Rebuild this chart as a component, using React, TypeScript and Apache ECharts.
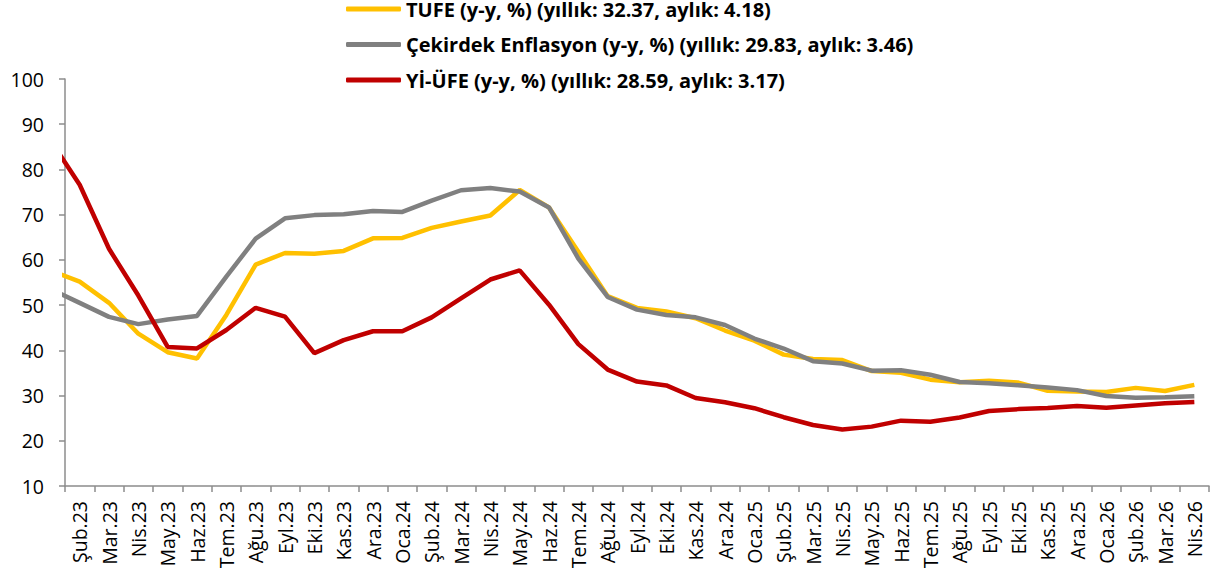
import React, { useEffect, useRef } from "react";
import * as echarts from "echarts";

// Months (first point Oca.23 lies half a slot left of the plot and is clipped)
const months = [
  "Oca.23", "Şub.23", "Mar.23", "Nis.23", "May.23", "Haz.23", "Tem.23", "Ağu.23", "Eyl.23", "Eki.23", "Kas.23", "Ara.23",
  "Oca.24", "Şub.24", "Mar.24", "Nis.24", "May.24", "Haz.24", "Tem.24", "Ağu.24", "Eyl.24", "Eki.24", "Kas.24", "Ara.24",
  "Oca.25", "Şub.25", "Mar.25", "Nis.25", "May.25", "Haz.25", "Tem.25", "Ağu.25", "Eyl.25", "Eki.25", "Kas.25", "Ara.25",
  "Oca.26", "Şub.26", "Mar.26", "Nis.26",
];
const xLabels = months.slice(1);

const tufe = [
  57.68, 55.18, 50.51, 43.68, 39.59, 38.21, 47.83, 58.94, 61.53, 61.36, 61.98, 64.77,
  64.86, 67.07, 68.5, 69.8, 75.45, 71.6, 61.78, 51.97, 49.38, 48.58, 47.09, 44.38,
  42.12, 39.05, 38.1, 37.86, 35.41, 35.05, 33.52, 32.95, 33.29, 32.87, 31.07, 30.89,
  30.8, 31.7, 31.0, 32.37,
];
const cekirdek = [
  53.6, 50.5, 47.4, 45.8, 46.8, 47.6, 56.3, 64.7, 69.2, 69.9, 70.1, 70.8,
  70.6, 73.1, 75.4, 75.9, 75.1, 71.6, 60.3, 51.8, 49.0, 47.8, 47.3, 45.6,
  42.6, 40.4, 37.6, 37.1, 35.5, 35.6, 34.6, 33.0, 32.7, 32.3, 31.8, 31.2,
  29.9, 29.5, 29.6, 29.83,
];
const yiufe = [
  86.46, 76.61, 62.45, 52.11, 40.76, 40.42, 44.5, 49.41, 47.44, 39.39, 42.25, 44.22,
  44.2, 47.29, 51.47, 55.66, 57.68, 50.09, 41.37, 35.75, 33.09, 32.24, 29.47, 28.52,
  27.2, 25.21, 23.5, 22.5, 23.13, 24.45, 24.19, 25.16, 26.59, 27.0, 27.23, 27.67,
  27.3, 27.8, 28.3, 28.59,
];

const seriesNames = [
  "TUFE (y-y, %) (yıllık: 32.37, aylık: 4.18)",
  "Çekirdek Enflasyon (y-y, %) (yıllık: 29.83, aylık: 3.46)",
  "Yİ-ÜFE (y-y, %) (yıllık: 28.59, aylık: 3.17)",
];
const colors = ["#FFC000", "#808080", "#C00000"];

const FONT = "'Open Sans', 'Noto Sans', sans-serif";

export default function App() {
  const ref = useRef<HTMLDivElement>(null);
  useEffect(() => {
    const chart = echarts.init(ref.current!, null, { renderer: "svg" });
    const toPts = (arr: number[]) => arr.map((v, i) => [i - 0.5, v]);
    const axisColor = "#8c8c8c";
    chart.setOption({
      animation: false,
      textStyle: { fontFamily: FONT },
      grid: { left: 65, right: 7, top: 79, bottom: 92, containLabel: false },
      legend: {
        orient: "vertical",
        left: 341,
        top: -6,
        itemWidth: 55,
        itemHeight: 5,
        itemGap: 15.5,
        icon: "roundRect",
        data: seriesNames,
        textStyle: { fontFamily: FONT, fontSize: 20, fontWeight: "bold", color: "#000", lineHeight: 20 },
      },
      xAxis: [
        {
          type: "category",
          data: xLabels,
          boundaryGap: true,
          axisLine: { show: true, lineStyle: { color: axisColor, width: 1.5 } },
          axisTick: { show: true, length: 6, lineStyle: { color: axisColor, width: 1.5 } },
          axisLabel: { rotate: 90, fontSize: 19.5, color: "#000", margin: 15, fontFamily: FONT, interval: 0 },
          splitLine: { show: false },
        },
        { type: "value", min: 0, max: xLabels.length, show: false },
      ],
      yAxis: {
        type: "value",
        min: 10,
        max: 100,
        interval: 10,
        axisLine: { show: true, lineStyle: { color: axisColor, width: 1.5 } },
        axisTick: { show: true, length: 6, lineStyle: { color: axisColor, width: 1.5 } },
        axisLabel: { fontSize: 19.5, color: "#000", margin: 21, fontFamily: FONT },
        splitLine: { show: false },
      },
      series: [tufe, cekirdek, yiufe].map((arr, k) => ({
        name: seriesNames[k],
        type: "line",
        xAxisIndex: 1,
        data: toPts(arr),
        showSymbol: false,
        symbol: "none",
        clip: true,
        color: colors[k],
        lineStyle: { width: 4.5, color: colors[k] },
        z: 2 + k,
      })),
    });
    return () => chart.dispose();
  }, []);
  return (
    <div
      ref={ref}
      style={{ position: "absolute", left: 0, top: 0, width: 1216, height: 578 }}
    />
  );
}
